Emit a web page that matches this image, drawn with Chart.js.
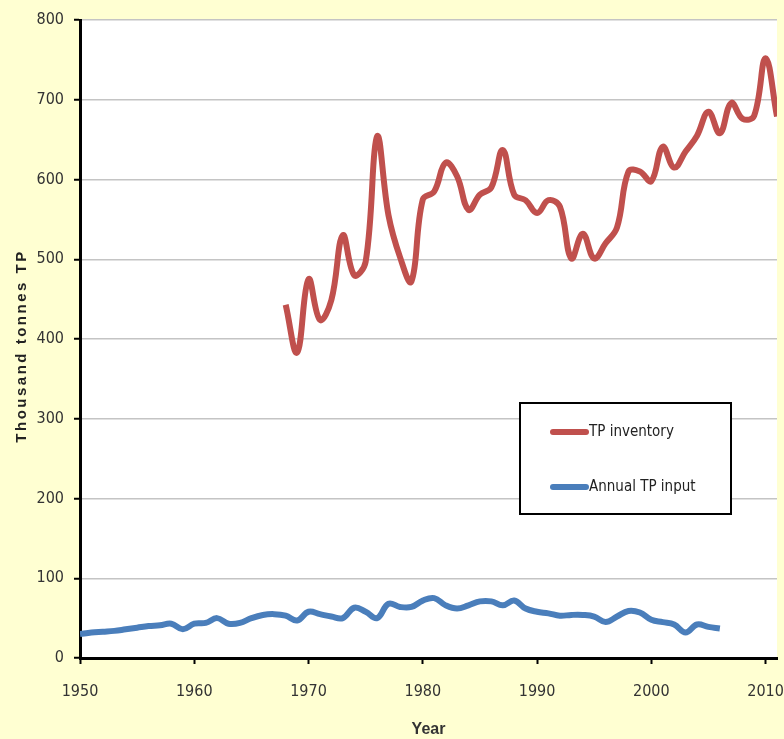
<!DOCTYPE html>
<html>
<head>
<meta charset="utf-8">
<script src="https://cdn.jsdelivr.net/npm/chart.js@4"></script>
<style>
  html, body { margin: 0; padding: 0; background: #FFFFD2; }
  #wrap { width: 784px; height: 739px; }
</style>
</head>
<body>
<div id="wrap"><canvas id="tpChart" width="784" height="739"></canvas></div>
<script>
// TP inventory, 1968-2011 (thousand tonnes)
const inventoryStart = 1968;
const inventoryValues = [
  443, 383, 475, 424, 449, 530, 480, 497, 654, 555,
  503, 472, 575, 585, 621, 604, 562, 581, 590, 637,
  581, 574, 558, 574, 566, 501, 532, 501, 520, 540,
  610, 610, 598, 641, 615, 635, 655, 685, 658, 696,
  676, 680, 752, 679
];

// Annual TP input, 1950-2006 (thousand tonnes)
const inputStart = 1950;
const inputValues = [
  30, 32, 33, 34, 36, 38, 40, 41, 43, 36,
  43, 44, 50, 43, 44, 50, 54, 55, 53, 47,
  58, 55, 52, 50, 63, 58, 50, 68, 64, 64,
  72, 75, 66, 62, 66, 71, 71, 66, 72, 62,
  58, 56, 53, 54, 54, 52, 45, 52, 59, 57,
  48, 45, 42, 32, 42, 39, 37
];

const seriesLabels = ["TP inventory", "Annual TP input"];
const seriesColors = ["#C0504D", "#4A7EBB"];
const yTicks = [0, 100, 200, 300, 400, 500, 600, 700, 800];
const xTicks = [1950, 1960, 1970, 1980, 1990, 2000, 2010];
const yTitle = "Thousand tonnes TP";

const tickFont = "'Liberation Sans Narrow', 'DejaVu Sans Condensed', 'Liberation Sans', sans-serif";

function toPoints(start, values) {
  return values.map((v, i) => ({ x: start + i, y: v }));
}

// paint yellow page and white plot area
const backgroundPlugin = {
  id: "bg",
  beforeDraw(chart) {
    const { ctx, chartArea } = chart;
    ctx.save();
    ctx.fillStyle = "#FFFFD2";
    ctx.fillRect(0, 0, chart.width, chart.height);
    ctx.fillStyle = "#FFFFFF";
    ctx.fillRect(chartArea.left, chartArea.top, chartArea.right - chartArea.left, chartArea.bottom - chartArea.top);
    ctx.restore();
  }
};

// boxed legend sitting inside the plot, plus the spaced-out y title
const boxLegendPlugin = {
  id: "boxLegend",
  afterDatasetsDraw(chart) {
    const { ctx } = chart;
    const x = 520, y = 403, w = 211, h = 111;
    ctx.save();
    ctx.fillStyle = "#FFFFFF";
    ctx.fillRect(x, y, w, h);
    ctx.strokeStyle = "#000000";
    ctx.lineWidth = 2;
    ctx.strokeRect(x, y, w, h);
    const rows = [432, 487];
    chart.data.datasets.forEach((ds, i) => {
      ctx.strokeStyle = ds.borderColor;
      ctx.lineWidth = 6;
      ctx.lineCap = "round";
      ctx.beginPath();
      ctx.moveTo(553, rows[i]);
      ctx.lineTo(586, rows[i]);
      ctx.stroke();
      ctx.fillStyle = "#222222";
      ctx.font = "15px " + tickFont;
      ctx.textBaseline = "middle";
      ctx.textAlign = "left";
      ctx.fillText(ds.label, 589, rows[i]);
    });
    ctx.restore();
  },
  afterDraw(chart) {
    const { ctx } = chart;
    ctx.save();
    ctx.translate(22, 346);
    ctx.rotate(-Math.PI / 2);
    ctx.font = "bold 15px 'Liberation Sans', Arial, sans-serif";
    ctx.letterSpacing = "2.5px";
    ctx.fillStyle = "#222222";
    ctx.textAlign = "center";
    ctx.textBaseline = "middle";
    ctx.fillText(yTitle, 0, 0);
    ctx.restore();
  }
};

const ctx = document.getElementById("tpChart").getContext("2d");
new Chart(ctx, {
  type: "line",
  data: {
    datasets: [{
      label: seriesLabels[0],
      data: toPoints(inventoryStart, inventoryValues),
      borderColor: seriesColors[0],
      borderWidth: 6,
      pointRadius: 0,
      tension: 0.4,
      fill: false
    }, {
      label: seriesLabels[1],
      data: toPoints(inputStart, inputValues),
      borderColor: seriesColors[1],
      borderWidth: 6,
      pointRadius: 0,
      tension: 0.4,
      fill: false
    }]
  },
  options: {
    responsive: false,
    animation: false,
    layout: { padding: { top: 20, right: 0, left: 0, bottom: 0 } },
    plugins: {
      legend: { display: false },
      tooltip: { enabled: false }
    },
    scales: {
      x: {
        type: "linear",
        min: 1950,
        max: 2011,
        afterFit: s => { s.height = 81; s.paddingLeft = 0; s.paddingRight = 7; },
        afterBuildTicks: s => { s.ticks = xTicks.map(v => ({ value: v })); },
        ticks: {
          includeBounds: false,
          padding: 18,
          color: "#333333",
          font: { family: tickFont, size: 16 },
          callback: v => String(v)
        },
        grid: {
          drawOnChartArea: false,
          drawTicks: true,
          tickLength: 6,
          tickColor: "#000000",
          tickWidth: 2
        },
        border: { color: "#000000", width: 3 },
        title: {
          display: true,
          text: "Year",
          color: "#333333",
          font: { family: "'Liberation Sans', Arial, sans-serif", size: 16, weight: "bold" },
          padding: { top: 0, bottom: 0 }
        }
      },
      y: {
        min: 0,
        max: 800,
        afterFit: s => { s.width = 80; },
        afterBuildTicks: s => { s.ticks = yTicks.map(v => ({ value: v })); },
        ticks: {
          padding: 10,
          color: "#333333",
          font: { family: tickFont, size: 16 }
        },
        grid: {
          color: "#C4C4C4",
          lineWidth: 1.5,
          tickLength: 6,
          tickColor: "#000000",
          tickWidth: 2
        },
        border: { color: "#000000", width: 3 },
        title: { display: false }
      }
    }
  },
  plugins: [backgroundPlugin, boxLegendPlugin]
});
</script>
</body>
</html>
